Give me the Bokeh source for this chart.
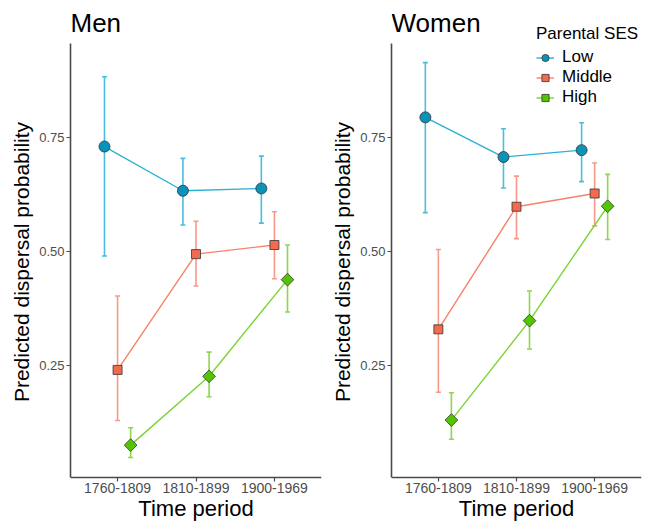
from bokeh.plotting import figure
from bokeh.models import (ColumnDataSource, FactorRange, Range1d, FixedTicker, Whisker,
                          TeeHead, Legend, LegendItem, NumeralTickFormatter, Label)
from bokeh.transform import dodge
from bokeh.layouts import row
from bokeh.embed import file_html
from bokeh.resources import INLINE

periods = ["1760-1809", "1810-1899", "1900-1969"]
ses_levels = ["Low", "Middle", "High"]
y_ticks = [0.25, 0.50, 0.75]
y_lim = (0.005, 0.957)   # panel limits of the value axis

# Men
men_low = [0.731, 0.634, 0.639]
men_low_lo = [0.491, 0.559, 0.563]
men_low_hi = [0.884, 0.705, 0.710]
men_mid = [0.241, 0.495, 0.515]
men_mid_lo = [0.130, 0.425, 0.441]
men_mid_hi = [0.403, 0.567, 0.588]
men_high = [0.076, 0.227, 0.439]
men_high_lo = [0.049, 0.182, 0.368]
men_high_hi = [0.114, 0.280, 0.515]

# Women
women_low = [0.795, 0.708, 0.723]
women_low_lo = [0.586, 0.640, 0.654]
women_low_hi = [0.915, 0.770, 0.783]
women_mid = [0.330, 0.599, 0.628]
women_mid_lo = [0.192, 0.529, 0.557]
women_mid_hi = [0.505, 0.666, 0.695]
women_high = [0.131, 0.349, 0.600]
women_high_lo = [0.089, 0.287, 0.527]
women_high_hi = [0.191, 0.414, 0.670]

FONT = "Liberation Sans"
fill_colors = {"Low": "#0A93B9", "Middle": "#F26B4E", "High": "#55C400"}
line_colors = {"Low": "#2BB0D6", "Middle": "#F6826C", "High": "#7CD334"}
err_colors = {"Low": "#4CBDDD", "Middle": "#F59A88", "High": "#8ED64E"}
markers = {"Low": ("circle", 11, 0.0), "Middle": ("square", 9, 0.0), "High": ("square", 9, 0.785398)}
offsets = {"Low": -0.1667, "Middle": 0.0, "High": 0.1667}

FIG_H = 523
PANEL_TOP = 43      # px from figure top to the top of the value axis
PANEL_BOTTOM = 477  # px from figure top to the category axis


def make_panel(title, data, width, bl, br, with_legend):
    ppu = (PANEL_BOTTOM - PANEL_TOP) / (y_lim[1] - y_lim[0])
    y_start = y_lim[0] - (FIG_H - PANEL_BOTTOM) / ppu
    y_end = y_lim[1] + PANEL_TOP / ppu
    p = figure(width=width, height=FIG_H, output_backend="svg", toolbar_location=None,
               x_range=FactorRange(factors=periods, range_padding=0.1,
                                   range_padding_units="absolute"),
               y_range=Range1d(y_start, y_end),
               min_border_left=bl, min_border_right=br, min_border_top=0,
               min_border_bottom=0)
    p.outline_line_color = None
    p.xgrid.visible = False
    p.ygrid.visible = False
    for ax in (p.xaxis[0], p.yaxis[0]):
        ax.axis_line_color = "#4a4a4a"
        ax.axis_line_width = 1.6
        ax.major_tick_line_color = "#4a4a4a"
        ax.major_tick_line_width = 1.2
        ax.major_tick_out = 4
        ax.major_tick_in = 0
        ax.minor_tick_line_color = None
        ax.major_label_text_font = FONT
        ax.major_label_text_color = "#4D4D4D"
        ax.axis_label_text_font = FONT
        ax.axis_label_text_font_style = "normal"
        ax.axis_label_text_color = "#000000"
    p.yaxis.bounds = y_lim
    p.yaxis.major_label_text_font_size = "13px"
    p.yaxis.ticker = FixedTicker(ticks=y_ticks)
    p.yaxis.formatter = NumeralTickFormatter(format="0.00")
    p.yaxis.major_label_standoff = 2
    p.yaxis.axis_label = "Predicted dispersal probability"
    p.yaxis.axis_label_text_font_size = "21px"
    p.yaxis.axis_label_standoff = 3

    p.xaxis.fixed_location = y_lim[0]
    p.xaxis.major_label_text_font_size = "14px"
    p.xaxis.major_label_standoff = 1
    p.xaxis.axis_label = "Time period"
    p.xaxis.axis_label_text_font_size = "22px"
    p.xaxis.axis_label_standoff = 0

    p.add_layout(Label(x=0, y=FIG_H - 22, x_units="screen", y_units="screen",
                       text=title, text_align="left", text_baseline="alphabetic",
                       text_font=FONT, text_font_size="26px", text_color="#000000"))

    items = []
    for lvl in ses_levels:
        est, lo, hi = data[lvl]
        src = ColumnDataSource(dict(period=periods, est=est, lo=lo, hi=hi))
        xs = dodge("period", offsets[lvl], range=p.x_range)
        w = Whisker(base=xs, upper="hi", lower="lo", source=src,
                    line_color=err_colors[lvl], line_width=1.6,
                    upper_head=TeeHead(size=5, line_color=err_colors[lvl], line_width=1.6),
                    lower_head=TeeHead(size=5, line_color=err_colors[lvl], line_width=1.6))
        p.add_layout(w)
        lr = p.line(x=xs, y="est", source=src, line_color=line_colors[lvl], line_width=1.4)
        m, s, a = markers[lvl]
        sr = p.scatter(x=xs, y="est", source=src, marker=m, size=s, angle=a,
                       fill_color=fill_colors[lvl], line_color="#333333", line_width=0.8)
        items.append(LegendItem(label=lvl, renderers=[lr, sr]))
    if with_legend:
        leg = Legend(items=items, location=(145, 416), title="Parental SES",
                     title_text_font=FONT, title_text_font_size="17px",
                     title_text_font_style="normal", title_text_color="#000000",
                     title_standoff=3,
                     label_text_font=FONT, label_text_font_size="17px",
                     label_text_color="#000000",
                     glyph_width=18, glyph_height=19, label_height=19, spacing=0,
                     label_standoff=8, padding=0, margin=0,
                     background_fill_alpha=0, border_line_color=None)
        p.add_layout(leg, "center")
    return p


men = {"Low": (men_low, men_low_lo, men_low_hi),
       "Middle": (men_mid, men_mid_lo, men_mid_hi),
       "High": (men_high, men_high_lo, men_high_hi)}
women = {"Low": (women_low, women_low_lo, women_low_hi),
         "Middle": (women_mid, women_mid_lo, women_mid_hi),
         "High": (women_high, women_high_lo, women_high_hi)}

p1 = make_panel("Men", men, 326, 70, 5, False)
p2 = make_panel("Women", women, 318, 65, 3, True)
layout = row(p1, p2)

open("out.html", "w").write(file_html(layout, INLINE))
